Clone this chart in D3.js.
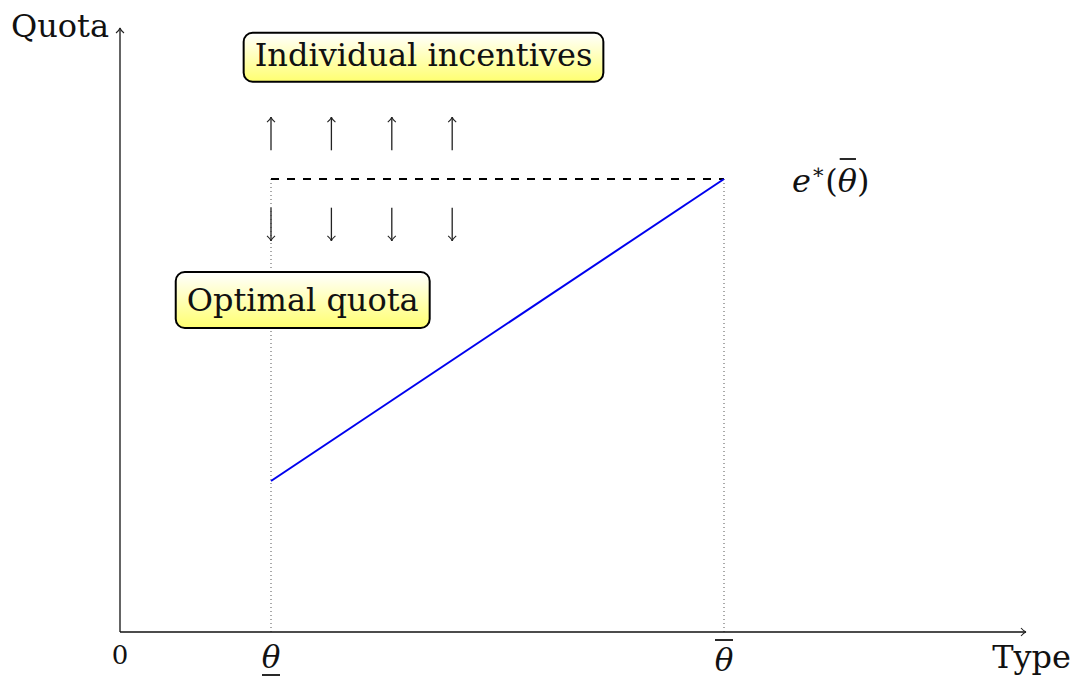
<!DOCTYPE html>
<html>
<head>
<meta charset="utf-8">
<script src="https://cdn.jsdelivr.net/npm/d3@7"></script>
<style>
  body { margin: 0; background: #fff; }
</style>
</head>
<body>
<div id="chart"></div>
<script>
const width = 1073, height = 679;

// data (in type / quota units)
const typeBounds = [1, 4];          // theta lower, theta upper
const quotaLine = [[1, 1], [4, 3]]; // optimal quota e*(theta)
const capLevel = 3;                 // e*(theta bar)
const arrowXs = [1, 1.4, 1.8, 2.2];
const upArrow = [3.19, 3.41];
const downArrow = [2.81, 2.59];
const boxLabels = ["Individual incentives", "Optimal quota"];
const boxPos = [[2.01, 3.75], [1.21, 2.126]]; // text centre x, baseline y

const serif = "'DejaVu Serif', serif";

const x = d3.scaleLinear().domain([0, 6]).range([120, 1026]);
const y = d3.scaleLinear().domain([0, 4]).range([632, 28]);

const svg = d3.select("#chart").append("svg")
  .attr("width", width).attr("height", height)
  .attr("font-family", serif).style("font-family", serif);

const defs = svg.append("defs");
const grad = defs.append("linearGradient").attr("id", "yel")
  .attr("x1", 0).attr("y1", 0).attr("x2", 0).attr("y2", 1);
grad.append("stop").attr("offset", "0%").attr("stop-color", "#ffffff");
grad.append("stop").attr("offset", "100%").attr("stop-color", "#ffff70");

// tex style open arrow head
defs.append("marker").attr("id", "tip")
  .attr("viewBox", "-6 -5 8 10").attr("refX", 0).attr("refY", 0)
  .attr("markerWidth", 8).attr("markerHeight", 10)
  .attr("markerUnits", "userSpaceOnUse").attr("orient", "auto")
  .append("path").attr("d", "M-5,-4 Q-2,-0.5 0,0 Q-2,0.5 -5,4")
  .attr("fill", "none").attr("stroke", "#222").attr("stroke-width", 1.1);

// dotted guides
svg.selectAll(".guide").data(typeBounds).join("line")
  .attr("x1", d => x(d)).attr("x2", d => x(d))
  .attr("y1", y(0)).attr("y2", y(capLevel))
  .attr("stroke", "#555").attr("stroke-width", 1)
  .attr("stroke-dasharray", "1 3");

// axes
svg.append("line").attr("x1", x(0)).attr("y1", y(0)).attr("x2", x(6)).attr("y2", y(0))
  .attr("stroke", "#111").attr("stroke-width", 1.3).attr("marker-end", "url(#tip)");
svg.append("line").attr("x1", x(0)).attr("y1", y(0)).attr("x2", x(0)).attr("y2", y(4))
  .attr("stroke", "#111").attr("stroke-width", 1.3).attr("marker-end", "url(#tip)");

// dashed cap
svg.append("line")
  .attr("x1", x(typeBounds[0])).attr("x2", x(typeBounds[1]))
  .attr("y1", y(capLevel)).attr("y2", y(capLevel))
  .attr("stroke", "#000").attr("stroke-width", 2)
  .attr("stroke-dasharray", "8 8");

// optimal quota line
svg.append("path").datum(quotaLine)
  .attr("d", d3.line().x(d => x(d[0])).y(d => y(d[1])))
  .attr("fill", "none").attr("stroke", "#0000ee").attr("stroke-width", 2);

// small arrows
svg.selectAll(".up").data(arrowXs).join("line")
  .attr("x1", d => x(d)).attr("x2", d => x(d))
  .attr("y1", y(upArrow[0])).attr("y2", y(upArrow[1]))
  .attr("stroke", "#222").attr("stroke-width", 1.3).attr("marker-end", "url(#tip)");
svg.selectAll(".down").data(arrowXs).join("line")
  .attr("x1", d => x(d)).attr("x2", d => x(d))
  .attr("y1", y(downArrow[0])).attr("y2", y(downArrow[1]))
  .attr("stroke", "#222").attr("stroke-width", 1.3).attr("marker-end", "url(#tip)");

// boxes
const boxAbove = [33, 39], boxHeight = [49, 56];
boxLabels.forEach((label, i) => {
  const [bx, by] = boxPos[i];
  const g = svg.append("g");
  const t = g.append("text")
    .attr("x", x(bx)).attr("y", y(by))
    .attr("text-anchor", "middle").attr("font-size", 32).attr("fill", "#111")
    .text(label);
  const bb = t.node().getBBox();
  g.insert("rect", "text")
    .attr("x", bb.x - 11).attr("y", y(by) - boxAbove[i])
    .attr("width", bb.width + 22).attr("height", boxHeight[i])
    .attr("rx", 9).attr("fill", "url(#yel)")
    .attr("stroke", "#000").attr("stroke-width", 2);
});

// axis labels
svg.append("text").attr("x", x(0) - 11).attr("y", y(4) + 9)
  .attr("text-anchor", "end").attr("font-size", 32).attr("fill", "#111").text("Quota");
svg.append("text").attr("x", x(6) + 45).attr("y", y(0) + 36)
  .attr("text-anchor", "end").attr("font-size", 32).attr("fill", "#111").text("Type");
svg.append("text").attr("x", x(0)).attr("y", y(0) + 32)
  .attr("text-anchor", "middle").attr("font-size", 26).attr("fill", "#111").text("0");

// theta ticks: lower is underlined, upper is overlined and sits lower
const thetaBase = [36, 39], thetaMark = [43, 8];
const thetaG = svg.selectAll(".theta").data(typeBounds).join("g");
thetaG.append("text")
  .attr("x", d => x(d)).attr("y", (d, i) => y(0) + thetaBase[i])
  .attr("text-anchor", "middle").attr("font-size", 31).attr("font-style", "italic")
  .attr("fill", "#111").text("θ");
thetaG.append("line")
  .attr("x1", d => x(d) - 9).attr("x2", d => x(d) + 9)
  .attr("y1", (d, i) => y(0) + thetaMark[i])
  .attr("y2", (d, i) => y(0) + thetaMark[i])
  .attr("stroke", "#111").attr("stroke-width", 1.8);

// e*(theta bar) label
const lab = svg.append("text").attr("x", x(4) + 68).attr("y", y(capLevel) + 13)
  .attr("font-size", 32).attr("fill", "#111");
lab.append("tspan").attr("font-style", "italic").text("e");
lab.append("tspan").attr("dy", -13).attr("font-size", 21).text("∗");
lab.append("tspan").attr("dy", 13).text("(");
const th = lab.append("tspan").attr("font-style", "italic").text("θ");
lab.append("tspan").text(")");
const tb = th.node().getBBox();
svg.append("line")
  .attr("x1", tb.x + 2).attr("x2", tb.x + tb.width - 1)
  .attr("y1", y(capLevel) - 20).attr("y2", y(capLevel) - 20)
  .attr("stroke", "#111").attr("stroke-width", 1.8);
</script>
</body>
</html>
